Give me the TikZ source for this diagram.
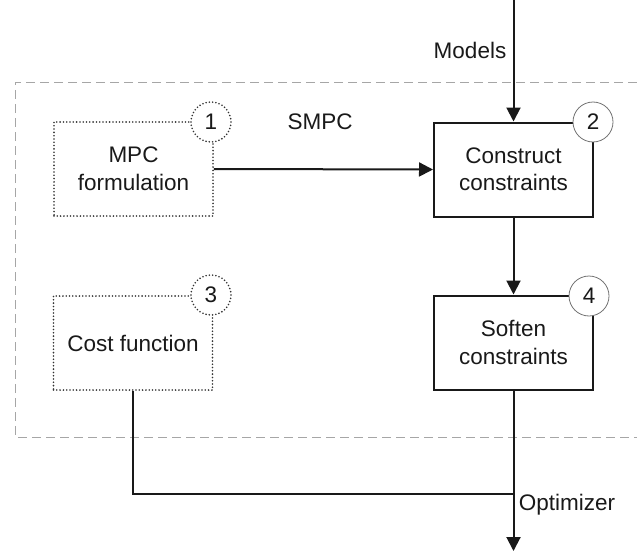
\documentclass[tikz,border=0pt]{standalone}
\usepackage{fontspec}
\setmainfont{Liberation Sans}
\usetikzlibrary{arrows.meta,calc}
\begin{document}
\begin{tikzpicture}[x=1pt,y=-1pt,
  every node/.style={font=\fontsize{22.5}{27.5}\selectfont, text=black!90},
  solidbox/.style={draw=black!90, line width=2pt, rectangle, minimum width=159pt, minimum height=94pt, align=center, inner sep=0pt},
  dotbox/.style={draw=black!80, line width=1.8pt, line cap=round, dash pattern=on 0pt off 3.3pt, rectangle, minimum width=159pt, minimum height=94pt, align=center, inner sep=0pt},
  numsolid/.style={circle, draw=black!55, line width=0.8pt, fill=white, minimum size=40pt, inner sep=0pt},
  numdot/.style={circle, draw=black!80, line width=1.8pt, line cap=round, dash pattern=on 0pt off 3.3pt, fill=white, minimum size=40pt, inner sep=0pt},
  conn/.style={draw=black!90, line width=2pt},
  arr/.style={conn, -{Triangle[length=14pt,width=14pt]}},
  frame/.style={draw=black!35, line width=1pt, dash pattern=on 9pt off 5pt},
  lbl/.style={inner sep=0pt}
]
\useasboundingbox (0,0) rectangle (637,551);
% dashed frame
\draw[frame] (637,82) -- (15,82) -- (15,437) -- (637,437);

% boxes
\node[dotbox]   (mpc)  at (133.5,169) {MPC\\formulation};
\node[solidbox] (cons) at (513.5,169.5) {Construct\\constraints};
\node[solidbox] (soft) at (513.5,342.5) {Soften\\constraints};
\node[dotbox]   (cost) at (133,343) {Cost function};

% numbered circles
\node[numdot]   (n1) at (211,122) {1};
\node[numsolid] (n2) at (593,122) {2};
\node[numdot]   (n3) at (211,295) {3};
\node[numsolid] (n4) at (589,296) {4};

% labels
\node[lbl] (models) at (470,50) {Models};
\node[lbl] (smpc) at (320,122) {SMPC};
\node[lbl] (opt) at (567,505) {Optimizer};

% coordinates
\coordinate (top) at (513.5,0);
\coordinate (join) at (513.5,494);
\coordinate (bot) at (513.5,551);

% connectors
\draw[arr] (top) -- (cons.north);
\draw[arr] (mpc.east) -- (cons.west);
\draw[arr] (cons.south) -- (soft.south |- soft.north);
\draw[arr] (soft.south) -- (bot);
\draw[conn] (cost.south) |- (join);
\end{tikzpicture}
\end{document}
